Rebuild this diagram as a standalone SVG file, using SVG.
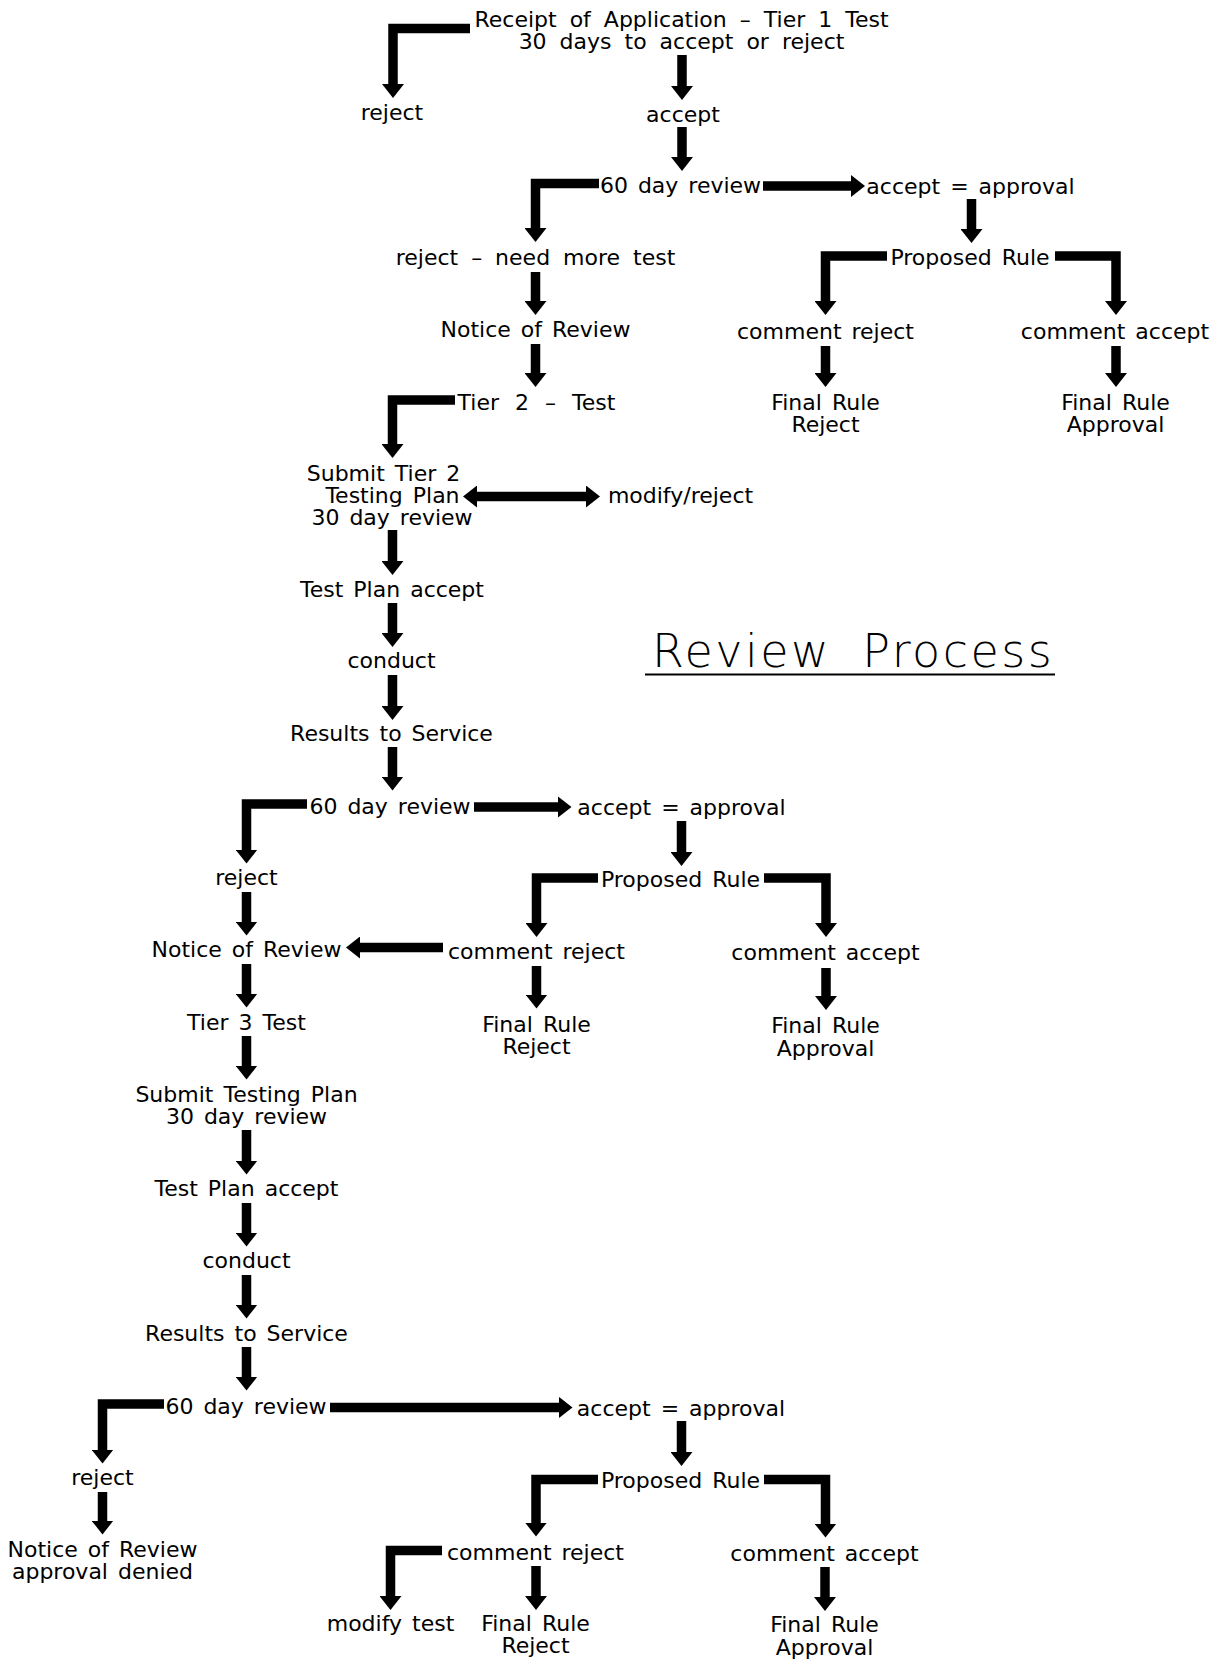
<svg xmlns="http://www.w3.org/2000/svg" width="1217" height="1659" viewBox="0 0 1217 1659">
<style>
.t{font-family:"DejaVu Sans","Liberation Sans",sans-serif;font-size:22px;word-spacing:3px;text-anchor:middle;fill:#000}
.w6{word-spacing:6px}
.w9{word-spacing:9px}
.a{fill:none;stroke:#000;stroke-width:9.5;stroke-linejoin:miter;stroke-linecap:butt;marker-end:url(#ah)}
.title{font-family:"DejaVu Sans","Liberation Sans",sans-serif;font-weight:200;font-size:46px;letter-spacing:2.5px;word-spacing:14px;fill:#000}
</style>
<defs>
<marker id="ah" markerUnits="userSpaceOnUse" markerWidth="14" markerHeight="22" viewBox="0 0 14 22" refX="1" refY="11" orient="auto"><path d="M0,0 L14,11 L0,22 Z" fill="#000"/></marker>
<marker id="ahs" markerUnits="userSpaceOnUse" markerWidth="14" markerHeight="22" viewBox="0 0 14 22" refX="13" refY="11" orient="auto"><path d="M14,0 L0,11 L14,22 Z" fill="#000"/></marker>
</defs>
<rect width="1217" height="1659" fill="#fff"/>
<g id="connectors">
<path class="a" d="M470,28.5 H393 V85"/>
<path class="a" d="M682,55 V87"/>
<path class="a" d="M682,127 V158"/>
<path class="a" d="M599,183.5 H535.5 V229"/>
<path class="a" d="M763,186 H852"/>
<path class="a" d="M971.5,199 V230"/>
<path class="a" d="M887,256 H825.5 V302"/>
<path class="a" d="M1055,256 H1116 V302"/>
<path class="a" d="M825.5,346 V374"/>
<path class="a" d="M1116,346 V374"/>
<path class="a" d="M535.5,272 V302"/>
<path class="a" d="M535.5,344 V374"/>
<path class="a" d="M455,400 H392.5 V445"/>
<path class="a" d="M476,496.5 H587" marker-start="url(#ahs)"/>
<path class="a" d="M392.5,530 V562"/>
<path class="a" d="M392.5,603 V634"/>
<path class="a" d="M392.5,675 V707"/>
<path class="a" d="M392.5,747 V777.5"/>
<path class="a" d="M307,804 H246.5 V850.5"/>
<path class="a" d="M474,807 H558.5"/>
<path class="a" d="M681.5,821 V853"/>
<path class="a" d="M598,878 H536.5 V924"/>
<path class="a" d="M764,878 H826 V924"/>
<path class="a" d="M443,947.5 H359"/>
<path class="a" d="M536.5,966 V995.5"/>
<path class="a" d="M826,968 V997"/>
<path class="a" d="M246.5,892 V922.5"/>
<path class="a" d="M246.5,964 V994.5"/>
<path class="a" d="M246.5,1036 V1066.5"/>
<path class="a" d="M246.5,1130 V1161.5"/>
<path class="a" d="M246.5,1203 V1233.5"/>
<path class="a" d="M246.5,1275 V1305.5"/>
<path class="a" d="M246.5,1347 V1377.5"/>
<path class="a" d="M164,1404 H102.5 V1450.5"/>
<path class="a" d="M330,1407.5 H559.5"/>
<path class="a" d="M681.5,1421 V1453"/>
<path class="a" d="M598,1479.5 H536 V1523.5"/>
<path class="a" d="M764,1479.5 H825.5 V1524.5"/>
<path class="a" d="M442,1550.5 H390.5 V1597"/>
<path class="a" d="M536,1566 V1597"/>
<path class="a" d="M825,1567 V1598"/>
<path class="a" d="M102.5,1492 V1521.5"/>
</g>
<g id="n1"><text class="t w6" x="681.5" y="27">Receipt of Application – Tier 1 Test</text><text class="t w6" x="681.5" y="49">30 days to accept or reject</text></g>
<g id="n2"><text class="t" x="392" y="120">reject</text></g>
<g id="n3"><text class="t" x="683" y="122">accept</text></g>
<g id="n4"><text class="t" x="680.5" y="193">60 day review</text></g>
<g id="n5"><text class="t" x="970.5" y="194">accept = approval</text></g>
<g id="n6"><text class="t" x="970" y="265">Proposed Rule</text></g>
<g id="n7"><text class="t" x="825.5" y="339">comment reject</text></g>
<g id="n8"><text class="t" x="1115" y="339">comment accept</text></g>
<g id="n9"><text class="t" x="825.5" y="410">Final Rule</text><text class="t" x="825.5" y="432">Reject</text></g>
<g id="n10"><text class="t" x="1115.5" y="410">Final Rule</text><text class="t" x="1115.5" y="432">Approval</text></g>
<g id="n11"><text class="t w6" x="535.5" y="265">reject – need more test</text></g>
<g id="n12"><text class="t" x="535.5" y="337">Notice of Review</text></g>
<g id="n13"><text class="t w9" x="536.5" y="410">Tier 2 – Test</text></g>
<g id="n14"><text class="t" x="383.5" y="481">Submit Tier 2</text><text class="t" x="392.5" y="503">Testing Plan</text><text class="t" x="392" y="525">30 day review</text></g>
<g id="n15"><text class="t" x="680.5" y="503">modify/reject</text></g>
<g id="n16"><text class="t" x="392" y="597">Test Plan accept</text></g>
<g id="n17"><text class="t" x="391.5" y="668">conduct</text></g>
<g id="n18"><text class="t" x="391.5" y="741">Results to Service</text></g>
<g id="n19"><text class="t" x="390" y="813.5">60 day review</text></g>
<g id="n20"><text class="t" x="681.5" y="814.5">accept = approval</text></g>
<g id="n21"><text class="t" x="680.5" y="887">Proposed Rule</text></g>
<g id="n22"><text class="t" x="536.5" y="958.5">comment reject</text></g>
<g id="n23"><text class="t" x="825.5" y="960">comment accept</text></g>
<g id="n24"><text class="t" x="536.5" y="1031.5">Final Rule</text><text class="t" x="536.5" y="1054">Reject</text></g>
<g id="n25"><text class="t" x="825.5" y="1033">Final Rule</text><text class="t" x="825.5" y="1055.5">Approval</text></g>
<g id="n26"><text class="t" x="246.5" y="884.5">reject</text></g>
<g id="n27"><text class="t" x="246.5" y="956.5">Notice of Review</text></g>
<g id="n28"><text class="t" x="246.5" y="1029.5">Tier 3 Test</text></g>
<g id="n29"><text class="t" x="246.5" y="1101.5">Submit Testing Plan</text><text class="t" x="246.5" y="1124">30 day review</text></g>
<g id="n30"><text class="t" x="246.5" y="1196">Test Plan accept</text></g>
<g id="n31"><text class="t" x="246.5" y="1268">conduct</text></g>
<g id="n32"><text class="t" x="246.5" y="1341">Results to Service</text></g>
<g id="n33"><text class="t" x="246" y="1414">60 day review</text></g>
<g id="n34"><text class="t" x="681" y="1416">accept = approval</text></g>
<g id="n35"><text class="t" x="680.5" y="1488">Proposed Rule</text></g>
<g id="n36"><text class="t" x="535.5" y="1560">comment reject</text></g>
<g id="n37"><text class="t" x="824.5" y="1561">comment accept</text></g>
<g id="n38"><text class="t" x="390.5" y="1631">modify test</text></g>
<g id="n39"><text class="t" x="535.5" y="1631">Final Rule</text><text class="t" x="535.5" y="1653">Reject</text></g>
<g id="n40"><text class="t" x="824.5" y="1632">Final Rule</text><text class="t" x="824.5" y="1654.5">Approval</text></g>
<g id="n41"><text class="t" x="102.5" y="1485">reject</text></g>
<g id="n42"><text class="t" x="102.5" y="1556.5">Notice of Review</text><text class="t" x="102.5" y="1579">approval denied</text></g>
<g id="title"><text class="title" x="652" y="667">Review Process</text><line x1="645" y1="674.5" x2="1055" y2="674.5" stroke="#000" stroke-width="2"/></g>
</svg>
